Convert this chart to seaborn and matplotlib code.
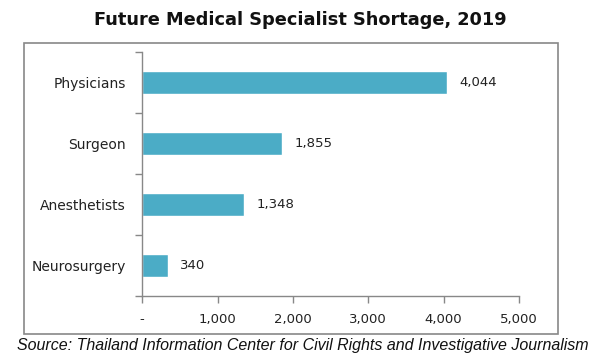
import matplotlib
matplotlib.use("Agg")
import matplotlib.pyplot as plt
import seaborn as sns
import pandas as pd
from matplotlib.patches import Rectangle
from matplotlib.ticker import FixedLocator

# chart data
categories = ["Physicians", "Surgeon", "Anesthetists", "Neurosurgery"]
shortage = [4044, 1855, 1348, 340]
x_ticks = [0, 1000, 2000, 3000, 4000, 5000]
x_tick_labels = ["-", "1,000", "2,000", "3,000", "4,000", "5,000"]

df = pd.DataFrame({"category": categories, "shortage": shortage})

sns.set_theme(style="white")
plt.rcParams["font.family"] = ["DejaVu Sans"]

fig = plt.figure(figsize=(6, 3.6), dpi=100)
ax = fig.add_axes([0.237, 0.178, 0.628, 0.678])

sns.barplot(data=df, x="shortage", y="category", color="#4BACC6",
            saturation=1, width=0.38, ax=ax)

ax.set_xlim(0, 5000)
ax.set_ylim(3.5, -0.5)
ax.set_xticks(x_ticks)
ax.set_xticklabels(x_tick_labels, fontsize=9.5, color="#222222")
ax.set_yticks(range(len(categories)))
ax.set_yticklabels(categories, fontsize=10, color="#222222")
ax.yaxis.set_minor_locator(FixedLocator([-0.5, 0.5, 1.5, 2.5, 3.5]))
ax.tick_params(axis="y", which="major", length=0, pad=12)
ax.tick_params(axis="y", which="minor", length=5, width=1, color="#888888", left=True)
ax.tick_params(axis="x", length=5, width=1, color="#888888", bottom=True, pad=7)
ax.set_xlabel("")
ax.set_ylabel("")

for s in ["top", "right"]:
    ax.spines[s].set_visible(False)
for s in ["left", "bottom"]:
    ax.spines[s].set_color("#888888")
    ax.spines[s].set_linewidth(1)

for i, v in enumerate(shortage):
    ax.annotate(f"{v:,}", xy=(v, i), xytext=(9, 0), textcoords="offset points",
                va="center", ha="left", fontsize=9.5, color="#222222")

# outer frame around the plot area
fig.patches.append(Rectangle((0.04, 0.072), 0.89, 0.809, transform=fig.transFigure,
                             fill=False, edgecolor="#888888", linewidth=1.2))

fig.text(0.5, 0.945, "Future Medical Specialist Shortage, 2019", ha="center",
         va="center", fontsize=12.8, fontweight="bold", color="#111111")
fig.text(0.505, 0.04, "Source: Thailand Information Center for Civil Rights and Investigative Journalism",
         ha="center", va="center", fontsize=11.5, style="italic",
         family=["Liberation Sans", "DejaVu Sans"], color="#111111")

fig.savefig("out.png", dpi=100)
